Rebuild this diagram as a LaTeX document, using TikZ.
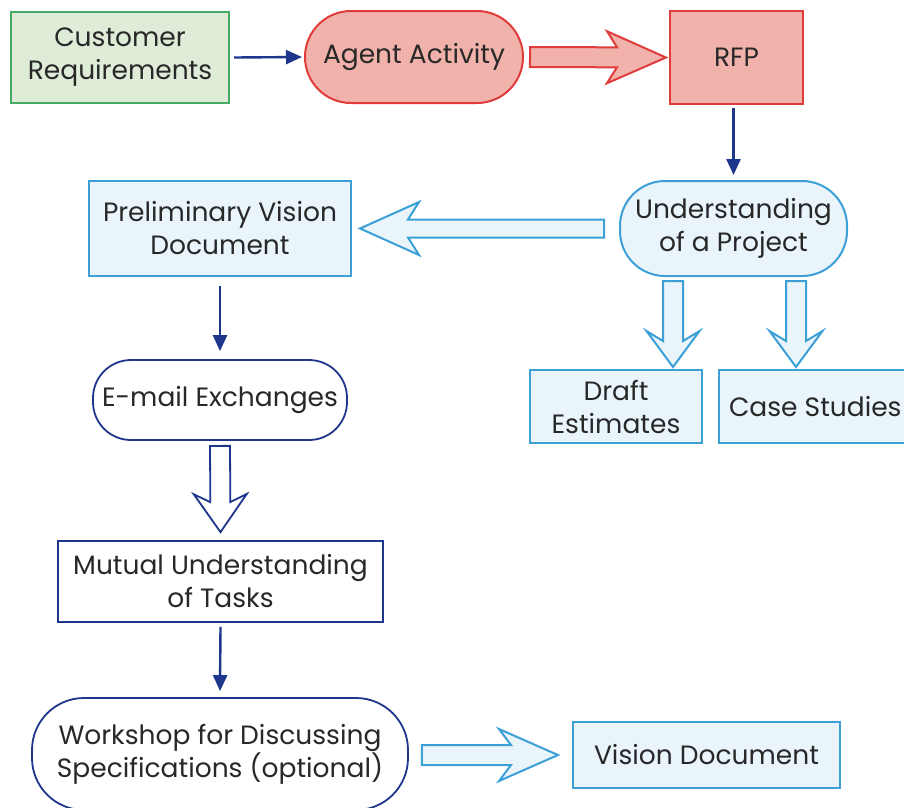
\documentclass[tikz,border=0pt]{standalone}
\usepackage{fontspec}
\setmainfont{Poppins}
\usetikzlibrary{calc,arrows.meta}

\definecolor{grnline}{RGB}{70,170,100}
\definecolor{grnfill}{RGB}{222,236,216}
\definecolor{redline}{RGB}{225,60,60}
\definecolor{redfill}{RGB}{240,178,170}
\definecolor{bluline}{RGB}{60,160,215}
\definecolor{blufill}{RGB}{233,244,251}
\definecolor{navy}{RGB}{30,55,140}
\definecolor{ink}{RGB}{40,40,40}

% block arrow: style, start, tip, shaft half-width, head half-width,
% head length, sweep of the barbs
\newcommand\fatarrow[7]{%
  \coordinate (fa-c) at ($(#3)!#6!(#2)$);
  \coordinate (fa-b) at ($(#3)!#6+#7!(#2)$);
  \draw[#1] ($(#2)!#4!90:(#3)$) -- ($(fa-c)!#4!90:(#3)$)
    -- ($(fa-b)!#5!90:(#3)$) -- (#3) -- ($(fa-b)!#5!-90:(#3)$)
    -- ($(fa-c)!#4!-90:(#3)$) -- ($(#2)!#4!-90:(#3)$) -- cycle;}

\begin{document}
\begin{tikzpicture}[x=1pt,y=-1pt,
  txt/.style={align=center, text=ink, font=\fontsize{26.5}{33}\selectfont, inner sep=0pt},
  greenbox/.style={txt, draw=grnline, fill=grnfill, line width=2pt},
  redbox/.style={txt, draw=redline, fill=redfill, line width=2pt},
  bluebox/.style={txt, draw=bluline, fill=blufill, line width=2pt},
  navybox/.style={txt, draw=navy, fill=white, line width=1.8pt},
  thin/.style={navy, line width=2.4pt, -{Triangle[length=16pt,width=14pt]}},
  redfat/.style={draw=redline, fill=redfill, line width=2pt, line join=miter},
  bluefat/.style={draw=bluline, fill=blufill, line width=2pt, line join=miter},
  navyfat/.style={draw=navy, fill=white, line width=1.8pt, line join=miter}]

\path[use as bounding box, clip] (0,0) rectangle (904,807);
\fill[white] (0,0) rectangle (904,807);

% boxes and pills
\node[greenbox, minimum width=218pt, minimum height=91pt] (cust) at (120,57.5) {Customer\\Requirements};
\node[redbox, minimum width=218pt, minimum height=92pt, rounded corners=46pt] (agent) at (414,57) {Agent Activity};
\node[redbox, minimum width=133pt, minimum height=93pt] (rfp) at (736.5,57.5) {RFP};
\node[bluebox, minimum width=227pt, minimum height=95pt, rounded corners=45pt] (under) at (733.5,228.5) {Understanding\\of a Project};
\node[bluebox, minimum width=262pt, minimum height=95pt] (prelim) at (220,228.5) {Preliminary Vision\\Document};
\node[navybox, minimum width=254pt, minimum height=80pt, rounded corners=38pt] (email) at (220,400) {E-mail Exchanges};
\node[bluebox, minimum width=172pt, minimum height=73pt] (draft) at (616,406.5) {Draft\\Estimates};
% this box runs on past the right-hand edge of the page
\node[bluebox, anchor=west, inner xsep=10pt, minimum height=73pt] (case) at (718,406.5) {Case Studies};
\node[navybox, minimum width=325pt, minimum height=81pt] (mutual) at (220.5,581.5) {Mutual Understanding\\of Tasks};
\node[navybox, minimum width=376pt, minimum height=112pt, rounded corners=52pt] (workshop) at (220,754) {Workshop for Discussing\\Specifications (optional)};
\node[bluebox, minimum width=267pt, minimum height=66pt] (vision) at (706.5,755) {Vision Document};

% thin connectors
\draw[thin] ($(cust.east)+(4,0)$) -- ($(agent.west)+(-2,0)$);
\draw[thin] ($(rfp.south)+(-3,3)$) -- ($(under.north)+(0,-5)$);
\draw[thin] ($(prelim.south)+(0,9)$) -- ($(email.north)+(0,-8)$);
\draw[thin] ($(mutual.south)+(0,4)$) -- ($(workshop.north)+(0,-6)$);

% block arrows
\coordinate (r-s) at ($(agent.east)+(6,0)$);
\coordinate (r-t) at ($(rfp.west)+(-3,0)$);
\fatarrow{redfat}{r-s}{r-t}{10pt}{26pt}{49pt}{10pt}

\coordinate (l-s) at ($(under.west)+(-15,0)$);
\coordinate (l-t) at ($(l-s -| prelim.east)+(8,0)$);
\fatarrow{bluefat}{l-s}{l-t}{9pt}{26.5pt}{48pt}{11pt}

\coordinate (d1-s) at ($(under.south)+(-60.5,4)$);
\coordinate (d1-t) at ($(d1-s |- draft.north)+(0,-2)$);
\fatarrow{bluefat}{d1-s}{d1-t}{10pt}{26.5pt}{26pt}{10pt}

\coordinate (d2-s) at ($(under.south)+(62.5,4)$);
\coordinate (d2-t) at ($(d2-s |- case.north)+(0,-2)$);
\fatarrow{bluefat}{d2-s}{d2-t}{10pt}{26.5pt}{26pt}{10pt}

\coordinate (h-s) at ($(email.south)+(0,5)$);
\coordinate (h-t) at ($(mutual.north)+(0,-8)$);
\fatarrow{navyfat}{h-s}{h-t}{10pt}{26.5pt}{30pt}{8pt}

\coordinate (b-s) at ($(workshop.east)+(13,1)$);
\coordinate (b-t) at ($(b-s -| vision.west)+(-14,0)$);
\fatarrow{bluefat}{b-s}{b-t}{10pt}{26pt}{47pt}{12pt}
\end{tikzpicture}
\end{document}
